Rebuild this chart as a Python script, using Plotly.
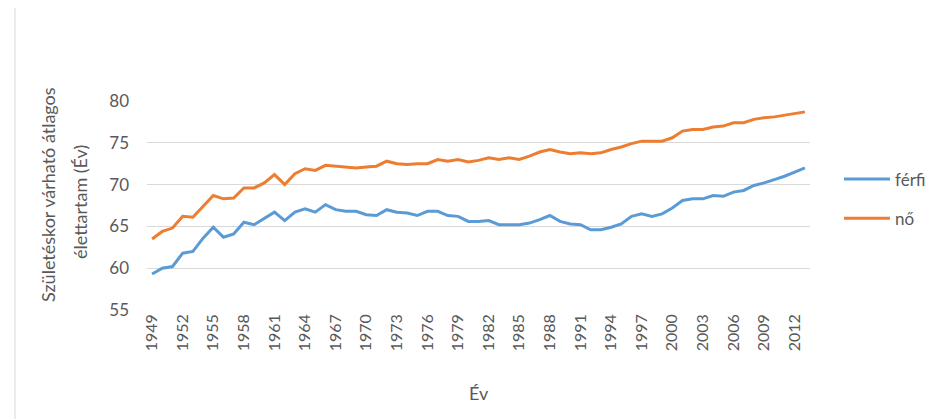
import plotly.graph_objects as go

years = list(range(1949, 2014))

ferfi = [59.3, 60.0, 60.2, 61.8, 62.0, 63.6, 64.9, 63.7, 64.1, 65.5,
         65.2, 65.9, 66.7, 65.7, 66.7, 67.1, 66.7, 67.6, 67.0, 66.8,
         66.8, 66.4, 66.3, 67.0, 66.7, 66.6, 66.3, 66.8, 66.8, 66.3,
         66.2, 65.6, 65.6, 65.7, 65.2, 65.2, 65.2, 65.4, 65.8, 66.3,
         65.6, 65.3, 65.2, 64.6, 64.6, 64.9, 65.3, 66.2, 66.5, 66.2,
         66.5, 67.2, 68.1, 68.3, 68.3, 68.7, 68.6, 69.1, 69.3, 69.9,
         70.2, 70.6, 71.0, 71.5, 72.0]

no = [63.5, 64.4, 64.8, 66.2, 66.1, 67.4, 68.7, 68.3, 68.4, 69.6,
      69.6, 70.2, 71.2, 70.0, 71.3, 71.9, 71.7, 72.3, 72.2, 72.1,
      72.0, 72.1, 72.2, 72.8, 72.5, 72.4, 72.5, 72.5, 73.0, 72.8,
      73.0, 72.7, 72.9, 73.2, 73.0, 73.2, 73.0, 73.4, 73.9, 74.2,
      73.9, 73.7, 73.8, 73.7, 73.8, 74.2, 74.5, 74.9, 75.2, 75.2,
      75.2, 75.6, 76.4, 76.6, 76.6, 76.9, 77.0, 77.4, 77.4, 77.8,
      78.0, 78.1, 78.3, 78.5, 78.7]

tick_years = list(range(1949, 2013, 3))
series_names = ["férfi", "nő"]
colors = ["#5B9BD5", "#ED7D31"]
y_title_lines = ["Születéskor várható átlagos", "élettartam (Év)"]
x_title = "Év"

FONT = "Lato, 'Open Sans', sans-serif"
GREY = "#595959"

# plot area in pixels
L, R, T, B = 139, 802, 93, 302
W, H = 939, 419

def px_x(p):
    return (p - L) / (R - L)

def px_y(p):
    return (B - p) / (B - T)

fig = go.Figure()
for i, (name, vals) in enumerate(zip(series_names, [ferfi, no])):
    fig.add_trace(go.Scatter(
        x=years, y=vals, mode="lines", name=name,
        line=dict(color=colors[i], width=3),
        legendgroup=name,
    ))

fig.update_layout(
    width=W, height=H,
    margin=dict(l=L, r=W - R, t=T, b=H - B),
    paper_bgcolor="white", plot_bgcolor="white",
    font=dict(family=FONT, color=GREY, size=15),
    showlegend=True,
    legend=dict(x=px_x(831), y=px_y(191), xanchor="left", yanchor="middle",
                font=dict(size=17, color=GREY), tracegroupgap=14,
                itemwidth=46, bgcolor="rgba(0,0,0,0)"),
)

fig.update_xaxes(
    range=[1948.5, 2013.5],
    tickmode="array", tickvals=tick_years,
    ticktext=[str(y) for y in tick_years],
    tickangle=-90, tickfont=dict(size=16, color=GREY),
    showgrid=False, zeroline=False, showline=False, ticks="",
)
fig.update_yaxes(
    range=[55, 80], dtick=5, tick0=55,
    showgrid=True, gridcolor="#d9d9d9", gridwidth=1,
    zeroline=False, showline=False, ticks="",
    tickfont=dict(size=17, color=GREY), ticklabelstandoff=17,
)

# axis titles
fig.add_annotation(text=y_title_lines[0], xref="paper", yref="paper",
                   x=px_x(40), y=px_y(187), textangle=-90, showarrow=False,
                   xanchor="center", yanchor="middle",
                   font=dict(size=18, color=GREY))
fig.add_annotation(text=y_title_lines[1], xref="paper", yref="paper",
                   x=px_x(72), y=px_y(194), textangle=-90, showarrow=False,
                   xanchor="center", yanchor="middle",
                   font=dict(size=18, color=GREY))
fig.add_annotation(text=x_title, xref="paper", yref="paper",
                   x=0.5, y=px_y(385), showarrow=False,
                   xanchor="center", yanchor="middle",
                   font=dict(size=18, color=GREY))

# left chart border
fig.add_shape(type="line", xref="paper", yref="paper",
              x0=px_x(7), x1=px_x(7), y0=px_y(419), y1=px_y(0),
              line=dict(color="#d9d9d9", width=1))

fig.write_html("out.html")
